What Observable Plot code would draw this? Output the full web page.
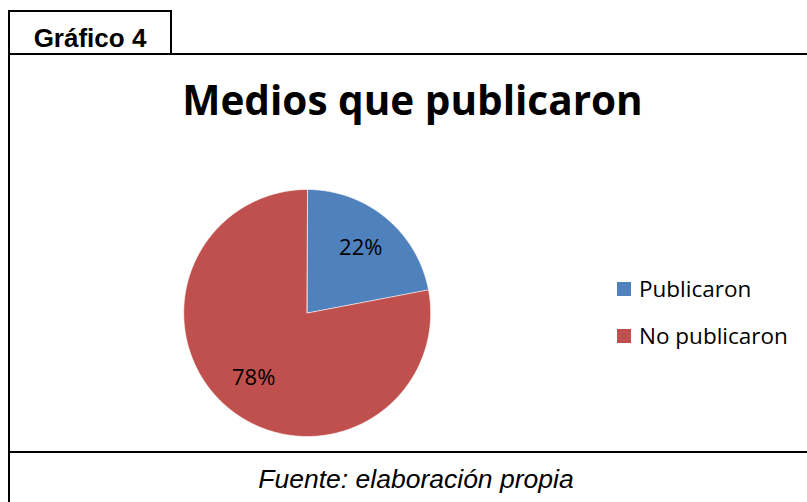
<!DOCTYPE html>
<html><head><meta charset="utf-8">
<script src="https://cdn.jsdelivr.net/npm/d3@7"></script>
<script src="https://cdn.jsdelivr.net/npm/@observablehq/plot@0.6"></script>
<style>
html,body{margin:0;padding:0;background:#fff}
#wrap{position:relative;width:807px;height:502px;overflow:hidden;background:#fff}
#wrap svg{position:absolute;left:0;top:0}
</style></head><body><div id="wrap"></div>
<script>
// ---- data ----
const categories = ["Publicaron", "No publicaron"];
const values = [22, 78];
const labels = ["22%", "78%"];
const chartTitle = "Medios que publicaron";
const tabLabel = "Gráfico 4";
const sourceNote = "Fuente: elaboración propia";

// ---- styles ----
const colors = ["#4F81BD", "#C0504D"];
const W = 807, H = 502, cx = 306.7, cy = 312.5, R = 123.5;

const arcs = d3.pie().sort(null).value(d => d.value)(
  categories.map((c, i) => ({name: c, value: values[i], label: labels[i]}))
);
const poly = [];
arcs.forEach(a => {
  poly.push({name: a.data.name, x: 0, y: 0});
  const n = Math.max(2, Math.ceil((a.endAngle - a.startAngle) / (Math.PI / 360)));
  for (let k = 0; k <= n; k++) {
    const t = a.startAngle + (a.endAngle - a.startAngle) * k / n;
    poly.push({name: a.data.name, x: Math.sin(t), y: Math.cos(t)});
  }
});
const lab = arcs.map(a => {
  const m = (a.startAngle + a.endAngle) / 2;
  return {label: a.data.label, x: 0.68 * Math.sin(m), y: 0.68 * Math.cos(m)};
});

const chart = Plot.plot({
  width: W, height: H, margin: 0,
  x: {domain: [-1, 1], range: [cx - R, cx + R], axis: null},
  y: {domain: [-1, 1], range: [cy + R, cy - R], axis: null},
  color: {domain: categories, range: colors},
  style: {background: "transparent"},
  marks: [
    Plot.line(poly, {x: "x", y: "y", z: "name", fill: "name", stroke: "#ffffff", strokeWidth: 0.8, strokeOpacity: 0.8, curve: "linear-closed"}),
    Plot.text(lab, {x: "x", y: "y", text: "label", fontSize: 22, fill: "#000", fontFamily: "Open Sans"})
  ]
});
const wrap = document.getElementById("wrap");
wrap.appendChild(chart);

// ---- overlay: frame, titles, legend ----
const svg = d3.select(wrap).append("svg").attr("width", W).attr("height", H);
const line = (x1, y1, x2, y2) => svg.append("line").attr("x1", x1).attr("y1", y1).attr("x2", x2).attr("y2", y2)
  .attr("stroke", "#000").attr("stroke-width", 2);
line(9, 10, 9, H);
line(8, 11, 172, 11);
line(171, 10, 171, 55);
line(8, 54, W, 54);
line(8, 452, W, 452);

svg.append("text").attr("x", 90).attr("y", 46.5).attr("text-anchor", "middle")
  .attr("font-family", "Liberation Sans, Arial, sans-serif").attr("font-weight", "bold").attr("font-size", 26)
  .text(tabLabel);
svg.append("text").attr("x", 412.5).attr("y", 115).attr("text-anchor", "middle")
  .attr("font-family", "Open Sans, sans-serif").attr("font-weight", "bold").attr("font-size", 40.5)
  .text(chartTitle);
svg.append("text").attr("x", 416).attr("y", 488).attr("text-anchor", "middle")
  .attr("font-family", "Liberation Sans, Arial, sans-serif").attr("font-style", "italic").attr("font-size", 26.5)
  .text(sourceNote);

const color = chart.scale("color");
categories.forEach((c, i) => {
  const y0 = 282 + i * 47;
  svg.append("rect").attr("x", 617).attr("y", y0).attr("width", 14).attr("height", 14).attr("fill", color.apply(c));
  svg.append("text").attr("x", 639).attr("y", y0 + 14.5)
    .attr("font-family", "Open Sans, sans-serif").attr("font-size", 22.5).text(c);
});
</script></body></html>
